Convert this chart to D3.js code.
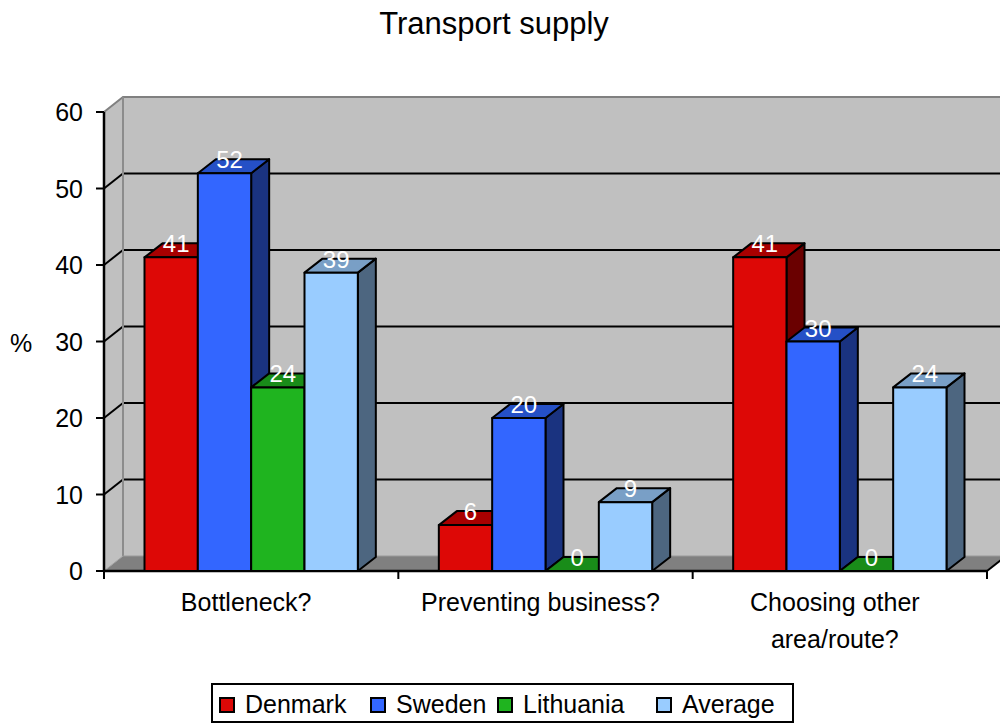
<!DOCTYPE html>
<html>
<head>
<meta charset="utf-8">
<script src="https://cdnjs.cloudflare.com/ajax/libs/d3/7.8.5/d3.min.js"></script>
<style>
  body { margin: 0; background: #fff; }
  svg { display: block; font-family: "Liberation Sans", Arial, sans-serif; }
</style>
</head>
<body>
<div id="vis"></div>
<script>
var categories = [["Bottleneck?"], ["Preventing business?"], ["Choosing other", "area/route?"]];
var seriesNames = ["Denmark", "Sweden", "Lithuania", "Average"];
var denmark = [41, 6, 41];
var sweden = [52, 20, 30];
var lithuania = [24, 0, 0];
var average = [39, 9, 24];
var yTicks = [0, 10, 20, 30, 40, 50, 60];

var width = 1000;
var height = 724;
var plotLeft = 104, plotRight = 987, plotBottom = 571, plotTop = 112;
var wallDx = 19, wallDy = -15;
var barDx = 18, barDy = -14;
var groupPad = 40.5;

// front, top, side colours for each series
var faceColors = [
    ["#dd0806", "#a80000", "#6a0000"],
    ["#3366ff", "#2550c6", "#1a3380"],
    ["#1fb41f", "#198c19", "#0f5a0f"],
    ["#99ccff", "#799fc6", "#4d6680"]
];
var legendX = [220, 371, 498, 657];

var values = [denmark, sweden, lithuania, average];
var catKeys = categories.map(function (c) { return c.join(" "); });

var svg = d3.select("#vis").append("svg")
    .attr("width", width)
    .attr("height", height);

var y = d3.scaleLinear().domain([0, 60]).range([plotBottom, plotTop]);
var x0 = d3.scaleBand().domain(catKeys).range([plotLeft, plotRight]);
var x1 = d3.scaleBand().domain(seriesNames)
    .range([groupPad, x0.bandwidth() - groupPad]);

// title
svg.append("text")
    .attr("x", 494)
    .attr("y", 34)
    .attr("text-anchor", "middle")
    .attr("font-size", 31)
    .text("Transport supply");

// walls and floor
svg.append("rect")
    .attr("x", plotLeft + wallDx)
    .attr("y", plotTop + wallDy)
    .attr("width", width)
    .attr("height", plotBottom - plotTop)
    .attr("fill", "#c0c0c0");
svg.append("polygon")
    .attr("points", [[plotLeft, plotBottom], [plotLeft, plotTop], [plotLeft + wallDx, plotTop + wallDy], [plotLeft + wallDx, plotBottom + wallDy]].join(" "))
    .attr("fill", "#c0c0c0");
svg.append("polygon")
    .attr("points", [[plotLeft, plotBottom], [plotRight, plotBottom], [plotRight + wallDx, plotBottom + wallDy], [plotLeft + wallDx, plotBottom + wallDy]].join(" "))
    .attr("fill", "#808080");

// grid lines on back wall and side wall
var grid = yTicks.filter(function (t) { return t > 0 && t < 60; });
svg.selectAll(".gridback").data(grid).enter().append("line")
    .attr("x1", plotLeft + wallDx).attr("x2", width + 10)
    .attr("y1", function (d) { return y(d) + wallDy; })
    .attr("y2", function (d) { return y(d) + wallDy; })
    .attr("stroke", "#000").attr("stroke-width", 2);
svg.selectAll(".gridside").data(grid).enter().append("line")
    .attr("x1", plotLeft).attr("x2", plotLeft + wallDx)
    .attr("y1", function (d) { return y(d); })
    .attr("y2", function (d) { return y(d) + wallDy; })
    .attr("stroke", "#000").attr("stroke-width", 2);

// wall edges
svg.append("path")
    .attr("d", "M" + plotLeft + "," + plotTop + "L" + (plotLeft + wallDx) + "," + (plotTop + wallDy) + "L" + (width + 10) + "," + (plotTop + wallDy))
    .attr("fill", "none").attr("stroke", "#808080").attr("stroke-width", 2);
svg.append("line")
    .attr("x1", plotLeft + wallDx).attr("x2", plotLeft + wallDx)
    .attr("y1", plotTop + wallDy).attr("y2", plotBottom + wallDy)
    .attr("stroke", "#8c8c8c").attr("stroke-width", 2);
svg.append("line")
    .attr("x1", plotLeft + wallDx).attr("x2", width + 10)
    .attr("y1", plotBottom + wallDy).attr("y2", plotBottom + wallDy)
    .attr("stroke", "#9a9a9a").attr("stroke-width", 1);
svg.append("line")
    .attr("x1", plotLeft).attr("x2", plotLeft + wallDx)
    .attr("y1", plotBottom).attr("y2", plotBottom + wallDy)
    .attr("stroke", "#a0a0a0").attr("stroke-width", 1);

// axes
svg.append("line")
    .attr("x1", plotLeft).attr("x2", plotLeft)
    .attr("y1", plotTop).attr("y2", plotBottom)
    .attr("stroke", "#000").attr("stroke-width", 2.5);
svg.selectAll(".ytick").data(yTicks).enter().append("line")
    .attr("x1", plotLeft - 8).attr("x2", plotLeft)
    .attr("y1", function (d) { return y(d); })
    .attr("y2", function (d) { return y(d); })
    .attr("stroke", "#000").attr("stroke-width", 2);
svg.selectAll(".ylabel").data(yTicks).enter().append("text")
    .attr("x", 83)
    .attr("y", function (d) { return y(d) + 9; })
    .attr("text-anchor", "end")
    .attr("font-size", 25)
    .text(function (d) { return d; });
svg.append("text")
    .attr("x", 21).attr("y", 352)
    .attr("text-anchor", "middle")
    .attr("font-size", 25)
    .text("%");

svg.append("line")
    .attr("x1", plotLeft).attr("x2", plotRight)
    .attr("y1", plotBottom).attr("y2", plotBottom)
    .attr("stroke", "#000").attr("stroke-width", 2.5);
svg.append("line")
    .attr("x1", plotRight).attr("x2", plotRight + wallDx)
    .attr("y1", plotBottom).attr("y2", plotBottom + wallDy)
    .attr("stroke", "#000").attr("stroke-width", 2);
var xTicks = catKeys.map(function (c) { return x0(c); }).concat([plotRight]);
svg.selectAll(".xtick").data(xTicks).enter().append("line")
    .attr("x1", function (d) { return d; })
    .attr("x2", function (d) { return d; })
    .attr("y1", plotBottom).attr("y2", plotBottom + 8)
    .attr("stroke", "#000").attr("stroke-width", 2);

var catLabels = svg.selectAll(".xlabel").data(categories).enter().append("text")
    .attr("text-anchor", "middle")
    .attr("font-size", 25)
    .attr("transform", function (d, i) {
        return "translate(" + (x0(catKeys[i]) + x0.bandwidth() / 2 - 5) + ",611)";
    });
catLabels.selectAll("tspan").data(function (d) { return d; }).enter().append("tspan")
    .attr("x", 0)
    .attr("y", function (d, i) { return i * 37; })
    .text(function (d) { return d; });

// 3D bars, drawn left to right so later bars hide earlier side faces
var bars = [];
catKeys.forEach(function (c, ci) {
    seriesNames.forEach(function (s, si) {
        bars.push({ cat: c, series: s, si: si, value: values[si][ci] });
    });
});

var barG = svg.append("g");
bars.forEach(function (b) {
    var bx = x0(b.cat) + x1(b.series);
    var bw = x1.bandwidth();
    var by = y(b.value);
    var c = faceColors[b.si];
    var g = barG.append("g")
        .attr("stroke", "#000")
        .attr("stroke-width", 2)
        .attr("stroke-linejoin", "round");
    g.append("polygon")
        .attr("points", [[bx + bw, by], [bx + bw + barDx, by + barDy], [bx + bw + barDx, plotBottom + barDy], [bx + bw, plotBottom]].join(" "))
        .attr("fill", c[2]);
    g.append("polygon")
        .attr("points", [[bx, by], [bx + barDx, by + barDy], [bx + bw + barDx, by + barDy], [bx + bw, by]].join(" "))
        .attr("fill", c[1]);
    g.append("rect")
        .attr("x", bx).attr("y", by)
        .attr("width", bw).attr("height", plotBottom - by)
        .attr("fill", c[0]);
});

svg.selectAll(".vlabel").data(bars).enter().append("text")
    .attr("x", function (b) { return x0(b.cat) + x1(b.series) + x1.bandwidth() / 2 + 5; })
    .attr("y", function (b) { return y(b.value) - 5; })
    .attr("text-anchor", "middle")
    .attr("font-size", 24)
    .attr("fill", "#fff")
    .text(function (b) { return b.value; });

// legend
var legend = svg.append("g");
legend.append("rect")
    .attr("x", 212).attr("y", 684)
    .attr("width", 581).attr("height", 38)
    .attr("fill", "#fff")
    .attr("stroke", "#000").attr("stroke-width", 2);
var items = legend.selectAll(".item").data(seriesNames).enter().append("g")
    .attr("transform", function (d, i) { return "translate(" + legendX[i] + ",698)"; });
items.append("rect")
    .attr("width", 14).attr("height", 14)
    .attr("fill", function (d, i) { return faceColors[i][0]; })
    .attr("stroke", "#000").attr("stroke-width", 2);
items.append("text")
    .attr("x", 25).attr("y", 15)
    .attr("font-size", 25)
    .text(function (d) { return d; });
</script>
</body>
</html>
